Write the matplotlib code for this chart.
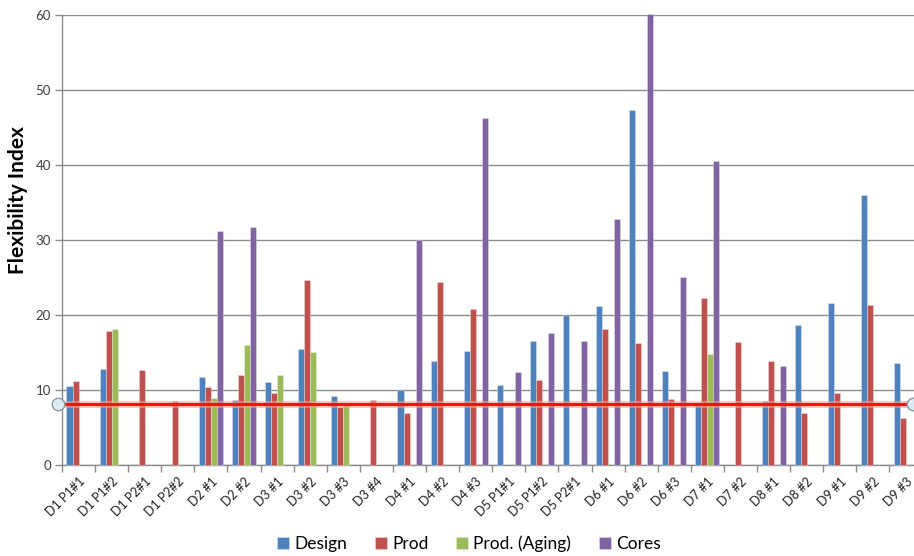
import matplotlib
matplotlib.use('Agg')
import matplotlib.pyplot as plt
import numpy as np

plt.rcParams['font.family'] = ['Lato', 'DejaVu Sans']

categories = ['D1 P1#1', 'D1 P1#2', 'D1 P2#1', 'D1 P2#2', 'D2 #1', 'D2 #2',
              'D3 #1', 'D3 #2', 'D3 #3', 'D3 #4', 'D4 #1', 'D4 #2', 'D4 #3',
              'D5 P1#1', 'D5 P1#2', 'D5 P2#1', 'D6 #1', 'D6 #2', 'D6 #3',
              'D7 #1', 'D7 #2', 'D8 #1', 'D8 #2', 'D9 #1', 'D9 #2', 'D9 #3']

# missing values are nan (no bar drawn)
nan = np.nan
design = [10.6, 12.9, nan, nan, 11.8, 8.7, 11.1, 15.5, 9.2, nan, 10.1, 13.9, 15.2,
          10.7, 16.6, 20.0, 21.3, 47.3, 12.6, 8.0, nan, 8.6, 18.7, 21.6, 36.0, 13.7]
prod = [11.2, 17.9, 12.7, 8.6, 10.4, 12.0, 9.6, 24.7, 7.8, 8.7, 7.0, 24.4, 20.9,
        nan, 11.4, nan, 18.2, 16.3, 8.8, 22.3, 16.5, 13.9, 7.0, 9.6, 21.4, 6.3]
prod_aging = [nan, 18.2, nan, nan, 9.0, 16.0, 12.1, 15.1, 8.1, nan, nan, nan, nan,
              nan, nan, nan, nan, nan, nan, 14.8, nan, nan, nan, nan, nan, nan]
cores = [nan, nan, nan, nan, 31.3, 31.8, nan, nan, nan, nan, 30.0, nan, 46.3,
         12.5, 17.7, 16.6, 32.8, 60.1, 25.1, 40.6, nan, 13.2, nan, nan, nan, nan]

series = [('Design', design, '#4F81BD'),
          ('Prod', prod, '#C0504D'),
          ('Prod. (Aging)', prod_aging, '#9BBB59'),
          ('Cores', cores, '#8064A2')]

threshold = 8.2

fig = plt.figure(figsize=(9.14, 5.56), dpi=100)
ax = fig.add_axes([0.0678, 0.1628, 0.9416, 0.810])

x = np.arange(len(categories))
n = len(series)
bw = 1.0 / (n + 1.5)
for i, (name, vals, col) in enumerate(series):
    off = (i - (n - 1) / 2) * bw
    ax.bar(x + off, np.array(vals, dtype=float), bw, color=col, label=name,
           edgecolor=(1, 1, 1, 0.35), linewidth=0.6, zorder=3, clip_on=False)

ax.set_xlim(-0.5, len(categories) - 0.5)
ax.set_ylim(0, 60)
ax.set_yticks(range(0, 61, 10))
ax.yaxis.grid(True, color='#8c8c8c', linewidth=1.0, zorder=0)
ax.set_axisbelow(True)

ax.set_xticks(x)
ax.set_xticklabels(categories, rotation=45, ha='right', rotation_mode='anchor',
                   fontsize=9, color='#222222')
ax.set_xticks(np.arange(-0.5, len(categories), 1), minor=True)
ax.tick_params(axis='x', which='major', length=0, pad=7)
ax.tick_params(axis='x', which='minor', length=5, color='#8c8c8c', width=1)
ax.tick_params(axis='y', length=5, color='#8c8c8c', width=1, labelsize=9.5,
               labelcolor='#404040', pad=3)

for s in ['top', 'right']:
    ax.spines[s].set_visible(False)
for s in ['left', 'bottom']:
    ax.spines[s].set_color('#8c8c8c')
    ax.spines[s].set_linewidth(1.0)

ax.set_ylabel('Flexibility Index', fontsize=15, fontweight='bold')
ax.yaxis.set_label_coords(-0.040, 0.59)

# red reference line with its end handles
xs = [-0.62, 25.21]
ax.plot(xs, [threshold, threshold], color='#ff9a9a', linewidth=5, alpha=0.6,
        zorder=4, clip_on=False, solid_capstyle='butt')
ax.plot(xs, [threshold, threshold], color='#ff1010', linewidth=2.2,
        zorder=5, clip_on=False)
ax.plot(xs, [threshold, threshold], linestyle='none', marker='o', markersize=9,
        markerfacecolor='#dcecf2', markeredgecolor='#8a9aa4', markeredgewidth=1,
        zorder=6, clip_on=False)

handles, labels = ax.get_legend_handles_labels()
fig.legend(handles, labels, loc='center', bbox_to_anchor=(0.513, 0.022), ncol=4,
           frameon=False, fontsize=12.5, handlelength=0.7, handleheight=0.7,
           handletextpad=0.3, columnspacing=1.6)

fig.savefig('out.png', dpi=100)
